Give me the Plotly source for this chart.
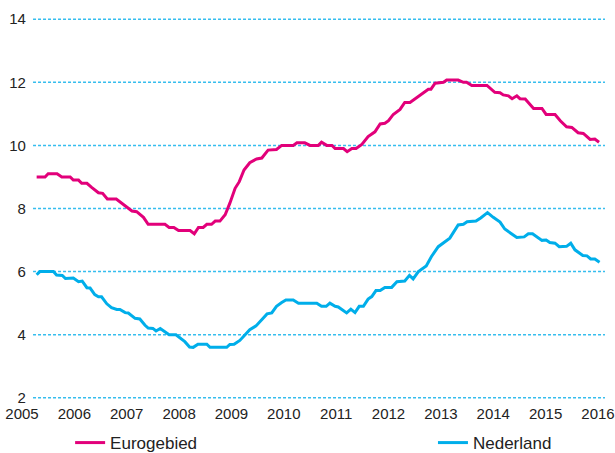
import plotly.graph_objects as go

EURO_X = [
    2005.28, 2005.44, 2005.50, 2005.67, 2005.76, 2005.92, 2005.98, 2006.08, 2006.14, 2006.24,
    2006.33, 2006.46, 2006.54, 2006.63, 2006.80, 2006.93, 2007.10, 2007.19, 2007.32, 2007.41,
    2007.73, 2007.81, 2007.90, 2007.99, 2008.21, 2008.29, 2008.37, 2008.46, 2008.53, 2008.62,
    2008.69, 2008.78, 2008.88, 2008.97, 2009.07, 2009.15, 2009.24, 2009.35, 2009.48, 2009.58,
    2009.70, 2009.86, 2009.96, 2010.18, 2010.25, 2010.40, 2010.50, 2010.66, 2010.72, 2010.82,
    2010.92, 2010.98, 2011.14, 2011.21, 2011.30, 2011.38, 2011.49, 2011.61, 2011.74, 2011.84,
    2011.93, 2012.00, 2012.09, 2012.22, 2012.31, 2012.41, 2012.51, 2012.68, 2012.76, 2012.81,
    2012.89, 2013.05, 2013.11, 2013.33, 2013.43, 2013.49, 2013.59, 2013.88, 2013.97, 2014.03,
    2014.13, 2014.19, 2014.29, 2014.36, 2014.45, 2014.51, 2014.61, 2014.70, 2014.77, 2014.93,
    2015.01, 2015.18, 2015.28, 2015.40, 2015.50, 2015.62, 2015.72, 2015.85, 2015.94, 2016.02,
]
EURO_Y = [
    9.0, 9.0, 9.1, 9.1, 9.0, 9.0, 8.9, 8.9, 8.8, 8.8,
    8.67, 8.5, 8.48, 8.3, 8.3, 8.14, 7.92, 7.9, 7.72, 7.5,
    7.5, 7.4, 7.4, 7.3, 7.3, 7.2, 7.4, 7.4, 7.5, 7.5,
    7.6, 7.6, 7.8, 8.17, 8.64, 8.85, 9.22, 9.45, 9.57, 9.6,
    9.85, 9.87, 10.0, 10.0, 10.08, 10.08, 10.0, 10.0, 10.1, 10.0,
    10.0, 9.9, 9.9, 9.8, 9.9, 9.9, 10.03, 10.28, 10.43, 10.68,
    10.7, 10.78, 10.98, 11.14, 11.36, 11.36, 11.48, 11.68, 11.78, 11.78,
    11.97, 12.0, 12.07, 12.07, 12.0, 12.0, 11.9, 11.9, 11.75, 11.68,
    11.67, 11.6, 11.57, 11.48, 11.57, 11.48, 11.47, 11.28, 11.17, 11.17,
    10.98, 10.98, 10.78, 10.59, 10.57, 10.4, 10.38, 10.19, 10.2, 10.1,
]

NL_X = [
    2005.28, 2005.34, 2005.60, 2005.66, 2005.77, 2005.83, 2005.98, 2006.08, 2006.15, 2006.24,
    2006.30, 2006.39, 2006.46, 2006.52, 2006.62, 2006.71, 2006.81, 2006.87, 2006.97, 2007.03,
    2007.16, 2007.25, 2007.35, 2007.41, 2007.50, 2007.56, 2007.64, 2007.73, 2007.81, 2007.94,
    2008.05, 2008.11, 2008.20, 2008.27, 2008.36, 2008.53, 2008.59, 2008.91, 2008.97, 2009.05,
    2009.16, 2009.26, 2009.35, 2009.47, 2009.58, 2009.68, 2009.77, 2009.86, 2009.96, 2010.04,
    2010.18, 2010.28, 2010.63, 2010.72, 2010.81, 2010.88, 2010.98, 2011.04, 2011.20, 2011.28,
    2011.36, 2011.44, 2011.52, 2011.61, 2011.68, 2011.76, 2011.84, 2011.93, 2012.06, 2012.16,
    2012.31, 2012.40, 2012.47, 2012.57, 2012.72, 2012.82, 2012.95, 2013.05, 2013.17, 2013.33,
    2013.43, 2013.50, 2013.67, 2013.76, 2013.89, 2014.00, 2014.13, 2014.22, 2014.32, 2014.45,
    2014.59, 2014.67, 2014.75, 2014.86, 2014.93, 2015.01, 2015.08, 2015.18, 2015.26, 2015.40,
    2015.48, 2015.56, 2015.71, 2015.79, 2015.86, 2015.94, 2016.03,
]
NL_Y = [
    5.9, 6.0, 6.0, 5.89, 5.88, 5.78, 5.8, 5.68, 5.7, 5.49,
    5.48, 5.27, 5.2, 5.2, 4.98, 4.86, 4.8, 4.8, 4.7, 4.69,
    4.52, 4.5, 4.3, 4.21, 4.2, 4.12, 4.2, 4.09, 4.0, 4.0,
    3.86, 3.78, 3.61, 3.6, 3.7, 3.7, 3.6, 3.6, 3.69, 3.7,
    3.82, 4.0, 4.16, 4.28, 4.49, 4.66, 4.69, 4.9, 5.02, 5.1,
    5.1, 5.0, 5.0, 4.9, 4.9, 5.0, 4.9, 4.88, 4.69, 4.81,
    4.7, 4.9, 4.9, 5.13, 5.21, 5.4, 5.4, 5.5, 5.5, 5.68,
    5.7, 5.88, 5.77, 6.0, 6.18, 6.48, 6.79, 6.9, 7.06, 7.48,
    7.5, 7.58, 7.6, 7.7, 7.87, 7.72, 7.57, 7.35, 7.22, 7.08,
    7.1, 7.2, 7.2, 7.06, 6.99, 7.0, 6.92, 6.9, 6.79, 6.8,
    6.9, 6.69, 6.51, 6.5, 6.4, 6.4, 6.3,
]

YEARS = list(range(2005, 2017))
Y_TICKS = [2, 4, 6, 8, 10, 12, 14]

PINK = "#e2007a"
CYAN = "#00aeea"
GRID = "#36bdee"
FONT = "Liberation Sans, Arial, sans-serif"

fig = go.Figure()
fig.add_trace(go.Scatter(
    x=EURO_X, y=EURO_Y, mode="lines", name="Eurogebied",
    line=dict(color=PINK, width=3), legend="legend",
))
fig.add_trace(go.Scatter(
    x=NL_X, y=NL_Y, mode="lines", name="Nederland",
    line=dict(color=CYAN, width=3), legend="legend2",
))

# dotted gridlines only over the inner span, not under the year labels
for v in Y_TICKS:
    fig.add_hline(y=v, x0=0.0537, x1=0.9837, layer="below",
                  line=dict(color=GRID, width=1.5, dash="3px,2px"))

fig.update_layout(
    width=615, height=453,
    margin=dict(l=0, r=0, t=16, b=52, autoexpand=False),
    plot_bgcolor="white", paper_bgcolor="white",
    font=dict(family=FONT, size=15, color="#222222"),
    xaxis=dict(
        range=[2004.580, 2016.325],
        tickvals=YEARS, ticktext=[str(y) for y in YEARS],
        showgrid=False, zeroline=False, showline=False, ticks="",
        ticklabelstandoff=2, automargin=False,
    ),
    yaxis=dict(
        range=[1.9, 14.1], tickvals=Y_TICKS, anchor="free", position=0.042,
        showgrid=False, zeroline=False, showline=False, ticks="",
        automargin=False,
    ),
    showlegend=True,
    legend=dict(
        orientation="h", x=0.114, y=0.022, xref="paper", yref="container",
        xanchor="left", yanchor="middle", bgcolor="rgba(0,0,0,0)",
        font=dict(size=17),
    ),
    legend2=dict(
        orientation="h", x=0.704, y=0.022, xref="paper", yref="container",
        xanchor="left", yanchor="middle", bgcolor="rgba(0,0,0,0)",
        font=dict(size=17),
    ),
)

# the page's default body margin would shift the chart by 8px
fig.write_html("out.html", config={"displayModeBar": False},
               post_script="document.body.style.margin = '0';")
